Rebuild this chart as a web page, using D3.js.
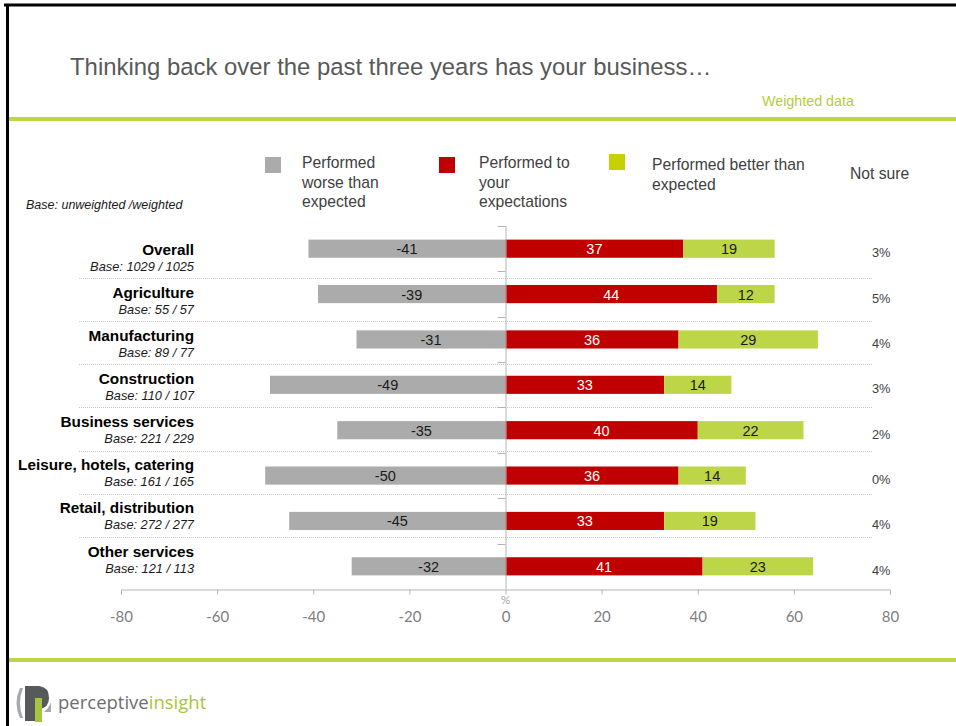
<!DOCTYPE html>
<html>
<head>
<meta charset="utf-8">
<script src="https://cdn.jsdelivr.net/npm/d3@7"></script>
<style>
  html, body { margin: 0; padding: 0; background: #ffffff; }
  svg { display: block; }
</style>
</head>
<body>
<svg id="chart" width="956" height="726"></svg>
<script>
// Survey results: how business performance compared with expectations, by sector
const sectors = ["Overall", "Agriculture", "Manufacturing", "Construction",
  "Business services", "Leisure, hotels, catering", "Retail, distribution", "Other services"];
const bases = ["Base: 1029 / 1025", "Base: 55 / 57", "Base: 89 / 77", "Base: 110 / 107",
  "Base: 221 / 229", "Base: 161 / 165", "Base: 272 / 277", "Base: 121 / 113"];
const worse = [-41, -39, -31, -49, -35, -50, -45, -32];
const asExpected = [37, 44, 36, 33, 40, 36, 33, 41];
const better = [19, 12, 29, 14, 22, 14, 19, 23];
const notSure = [3, 5, 4, 3, 2, 0, 4, 4];
const xTicks = [-80, -60, -40, -20, 0, 20, 40, 60, 80];
const legendItems = [
  { lines: ["Performed", "worse than", "expected"], color: "#ababab" },
  { lines: ["Performed to", "your", "expectations"], color: "#c00000" },
  { lines: ["Performed better than", "expected"], color: "#c6d200" }
];

const GREEN = "#bdd648";
const ARIAL = "'Liberation Sans', Arial, sans-serif";
const CAL = "Lato, 'Open Sans', sans-serif";

const svg = d3.select("#chart");

// Slide frame
svg.append("line").attr("x1", 4).attr("x2", 956).attr("y1", 5).attr("y2", 5)
  .attr("stroke", "#000").attr("stroke-width", 3);
svg.append("line").attr("x1", 7.5).attr("x2", 7.5).attr("y1", 4).attr("y2", 726)
  .attr("stroke", "#000").attr("stroke-width", 3);
svg.append("line").attr("x1", 9).attr("x2", 956).attr("y1", 119).attr("y2", 119)
  .attr("stroke", GREEN).attr("stroke-width", 4);
svg.append("line").attr("x1", 9).attr("x2", 956).attr("y1", 660).attr("y2", 660)
  .attr("stroke", GREEN).attr("stroke-width", 4);

// Question heading
svg.append("text").attr("x", 70).attr("y", 75)
  .attr("font-family", ARIAL).attr("font-size", 23.9).attr("fill", "#595959")
  .text("Thinking back over the past three years has your business\u2026");
svg.append("text").attr("x", 762).attr("y", 106)
  .attr("font-family", ARIAL).attr("font-size", 14.3).attr("fill", "#b3cc3c")
  .text("Weighted data");

// Scales
const x = d3.scaleLinear().domain([-80, 80]).range([121, 890]);
const y = d3.scaleBand().domain(sectors).range([226, 589])
  .paddingInner(0.6).paddingOuter(0.3);
const labelY = d3.scalePoint().domain(sectors).range([249, 551]);

// Dotted separators between sector rows
const sepGroup = svg.append("g");
sectors.slice(0, -1).forEach(s => {
  const yy = Math.round(labelY(s) + 29) + 0.5;
  sepGroup.append("line").attr("x1", 79).attr("x2", 872).attr("y1", yy).attr("y2", yy)
    .attr("stroke", "#c9c9c9").attr("stroke-width", 1).attr("stroke-dasharray", "1,1");
});

// Legend
const legendX = [265, 439, 609];
const legendBoxY = [157, 157, 154];
const legendTextX = [302, 479, 652];
const legendTextY = [168, 168, 170];
legendItems.forEach((item, i) => {
  svg.append("rect").attr("x", legendX[i]).attr("y", legendBoxY[i])
    .attr("width", 16).attr("height", 16).attr("fill", item.color);
  const t = svg.append("text").attr("x", legendTextX[i]).attr("y", legendTextY[i])
    .attr("font-family", ARIAL).attr("font-size", 15.7).attr("fill", "#404040");
  item.lines.forEach((ln, j) => {
    t.append("tspan").attr("x", legendTextX[i]).attr("dy", j === 0 ? 0 : 19.5).text(ln);
  });
});
svg.append("text").attr("x", 850).attr("y", 179)
  .attr("font-family", ARIAL).attr("font-size", 15.7).attr("fill", "#404040")
  .text("Not sure");
svg.append("text").attr("x", 26).attr("y", 209)
  .attr("font-family", ARIAL).attr("font-size", 12.5).attr("font-style", "italic")
  .attr("fill", "#1a1a1a").text("Base: unweighted /weighted");

// Sector labels
sectors.forEach((s, i) => {
  svg.append("text").attr("x", 194).attr("y", labelY(s) + 5.5)
    .attr("text-anchor", "end").attr("font-family", ARIAL).attr("font-size", 15.3)
    .attr("font-weight", "bold").attr("fill", "#000").text(s);
  svg.append("text").attr("x", 194).attr("y", labelY(s) + 21.5)
    .attr("text-anchor", "end").attr("font-family", ARIAL).attr("font-size", 12.8)
    .attr("font-style", "italic").attr("fill", "#1a1a1a").text(bases[i]);
});

// Bars
const rows = sectors.map((s, i) => ({ s, worse: worse[i], exp: asExpected[i], better: better[i], ns: notSure[i] }));
const barG = svg.append("g");
rows.forEach(r => {
  const segs = [
    { x0: r.worse, x1: 0, v: r.worse, fill: "#ababab", tc: "#1a1a1a" },
    { x0: 0, x1: r.exp, v: r.exp, fill: "#c00000", tc: "#ffffff" },
    { x0: r.exp, x1: r.exp + r.better, v: r.better, fill: GREEN, tc: "#1a1a1a" }
  ];
  segs.forEach(sg => {
    barG.append("rect")
      .attr("x", x(sg.x0)).attr("width", x(sg.x1) - x(sg.x0))
      .attr("y", y(r.s)).attr("height", y.bandwidth())
      .attr("fill", sg.fill);
    barG.append("text")
      .attr("x", (x(sg.x0) + x(sg.x1)) / 2).attr("y", y(r.s) + y.bandwidth() / 2 + 5.5)
      .attr("text-anchor", "middle").attr("font-family", ARIAL).attr("font-size", 14.5)
      .attr("fill", sg.tc).text(sg.v);
  });
  svg.append("text").attr("x", 872).attr("y", y(r.s) + y.bandwidth() / 2 + 8.5)
    .attr("font-family", ARIAL).attr("font-size", 12.8).attr("fill", "#404040")
    .text(r.ns + "%");
});

// Vertical category axis at zero
const axisColor = "#b5b5b5";
const vAxis = svg.append("g");
vAxis.append("line").attr("x1", x(0) + 0.5).attr("x2", x(0) + 0.5)
  .attr("y1", 226).attr("y2", 589).attr("stroke", axisColor);
sectors.forEach(s => {
  const yy = Math.round(y(s) - y.step() * y.paddingInner() / 2) + 0.5;
  vAxis.append("line").attr("x1", x(0) - 8).attr("x2", x(0)).attr("y1", yy).attr("y2", yy)
    .attr("stroke", axisColor);
});

// Horizontal value axis
const xAxis = svg.append("g").attr("transform", "translate(0,589.5)")
  .call(d3.axisBottom(x).tickValues(xTicks).tickFormat(d => String(d))
    .tickSize(5).tickSizeOuter(5).tickPadding(17));
xAxis.select(".domain").attr("stroke", axisColor);
xAxis.selectAll(".tick line").attr("stroke", axisColor);
xAxis.selectAll(".tick text").attr("font-family", CAL).attr("font-size", 15)
  .attr("fill", "#808080");
svg.append("text").attr("x", x(0)).attr("y", 604).attr("text-anchor", "middle")
  .attr("font-family", CAL).attr("font-size", 12).attr("fill", "#a6a6a6").text("%");

// Company mark in the footer
const logo = svg.append("g").attr("transform", "translate(13,684)");
logo.append("path").attr("d", "M7,4 Q0,19 7,34 L10,34 Q4,19 10,4 Z").attr("fill", "#a7a9ac");
logo.append("path").attr("d", "M12,2 L26,2 Q36,3 36,14 Q36,24 26,25 L22,25 L22,37 L12,37 Z")
  .attr("fill", "#58595b");
logo.append("rect").attr("x", 22).attr("y", 14).attr("width", 7).attr("height", 24).attr("fill", "#a8c43c");
logo.append("path").attr("d", "M31,28 Q36,24 38,18 L38,28 Z").attr("fill", "#a7a9ac");
const brand = svg.append("text").attr("x", 58).attr("y", 709)
  .attr("font-family", "'Open Sans', sans-serif").attr("font-size", 18.5);
brand.append("tspan").attr("fill", "#6d6e71").text("perceptive");
brand.append("tspan").attr("fill", "#a8c43c").text("insight");
</script>
</body>
</html>
